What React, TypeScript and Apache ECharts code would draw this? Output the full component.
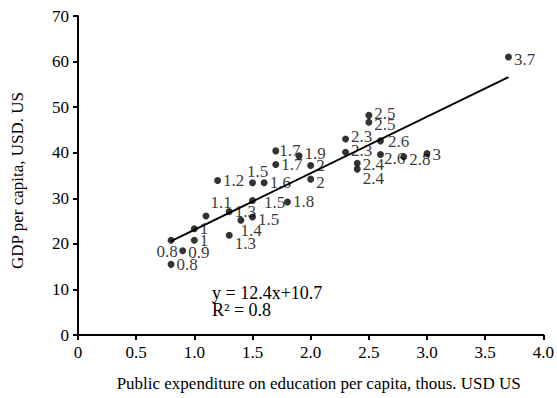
import React, { useEffect, useRef } from "react";
import * as echarts from "echarts";

// Public expenditure on education per capita (thous. USD)
const xValues = [0.8, 0.8, 0.9, 1, 1, 1.1, 1.2, 1.3, 1.3, 1.4, 1.5, 1.5, 1.5, 1.6, 1.7, 1.7, 1.8, 1.9, 2, 2, 2.3, 2.3, 2.4, 2.4, 2.5, 2.5, 2.6, 2.6, 2.8, 3, 3.7];
// GDP per capita
const yValues = [20.8, 15.5, 18.5, 23.3, 20.8, 26.1, 33.9, 27.1, 21.9, 25.2, 29.5, 25.9, 33.4, 33.4, 40.4, 37.4, 29.2, 39.3, 37.2, 34.2, 43.0, 40.1, 37.7, 36.4, 48.2, 46.7, 42.6, 39.6, 39.1, 39.8, 61.0];
// label placement tweaks (dx, dy) relative to "right"
const labelOffsets: [number, number][] = [
  [-20, 11], [0, 0], [0, 2], [0, 0], [0, 0], [-1, -14], [0, 0], [0, 0], [0, 8], [-6, 10],
  [6, 2], [0, 3], [-11, -11], [0, 0], [-2, 0], [0, 0], [0, 0], [0, -2], [0, 0], [0, 3],
  [0, -3], [0, -2], [0, 1], [0, 9], [0, -2], [0, 2], [2, 1], [-2, 4], [0, 3], [0, 1], [0, 2],
];
const xTicks = [0, 0.5, 1, 1.5, 2, 2.5, 3, 3.5, 4];
const yTicks = [0, 10, 20, 30, 40, 50, 60, 70];
const slope = 12.4;
const intercept = 10.7;
const rSquared = 0.8;

const FONT = "'Liberation Serif', 'Times New Roman', serif";

export default function App() {
  const ref = useRef<HTMLDivElement>(null);
  useEffect(() => {
    if (!ref.current) return;
    const chart = echarts.init(ref.current, undefined, { renderer: "svg" });
    const xMin = Math.min(...xValues);
    const xMax = Math.max(...xValues);
    const scatterData = xValues.map((x, i) => [x, yValues[i]]);
    chart.setOption({
      animation: false,
      textStyle: { fontFamily: FONT, color: "#000" },
      grid: { left: 78, right: 7, top: 16, bottom: 63, containLabel: false },
      xAxis: {
        type: "value",
        min: xTicks[0],
        max: xTicks[xTicks.length - 1],
        interval: 0.5,
        name: "Public expenditure on education per capita, thous. USD US",
        nameLocation: "middle",
        nameGap: 40,
        nameTextStyle: { fontFamily: FONT, fontSize: 17, color: "#000", padding: [0, 0, 0, 16] },
        axisLine: { lineStyle: { color: "#000", width: 2 } },
        axisTick: { show: true, length: 5, lineStyle: { color: "#000", width: 2 } },
        axisLabel: {
          margin: 9,
          fontFamily: FONT,
          fontSize: 17,
          color: "#000",
          formatter: (v: number) => (v === 0 ? "0" : v.toFixed(1)),
        },
        splitLine: { show: false },
      },
      yAxis: {
        type: "value",
        min: yTicks[0],
        max: yTicks[yTicks.length - 1],
        interval: 10,
        name: "GDP per capita, USD. US",
        nameLocation: "middle",
        nameGap: 52,
        nameTextStyle: { fontFamily: FONT, fontSize: 17, color: "#000", padding: [0, 10, 0, 0] },
        axisLine: { show: true, lineStyle: { color: "#000", width: 2 } },
        axisTick: { show: true, length: 5, lineStyle: { color: "#000", width: 2 } },
        axisLabel: { margin: 9, fontFamily: FONT, fontSize: 17, color: "#000" },
        splitLine: { show: false },
      },
      graphic: [
        {
          type: "text",
          left: 212,
          top: 284,
          style: {
            text: `y = ${slope}x+${intercept}\nR\u00b2 = ${rSquared}`,
            font: `18px ${FONT}`,
            fill: "#000",
            lineHeight: 17,
          },
        },
      ],
      series: [
        {
          type: "line",
          data: [
            [xMin, slope * xMin + intercept],
            [xMax, slope * xMax + intercept],
          ],
          symbol: "none",
          lineStyle: { color: "#000", width: 2 },
          z: 1,
        },
        {
          type: "scatter",
          data: scatterData,
          symbol: "circle",
          symbolSize: 7,
          itemStyle: { color: "#000" },
          z: 2,
          label: {
            show: true,
            position: "right",
            distance: 2,
            fontFamily: FONT,
            fontSize: 17,
            color: "#000",
            textBorderWidth: 0,
            formatter: (p: any) => String(p.value[0]),
          },
          labelLayout: (params: any) => {
            const o = labelOffsets[params.dataIndex] || [0, 0];
            return { dx: o[0], dy: o[1], hideOverlap: false };
          },
        },
      ],
    });
    return () => chart.dispose();
  }, []);
  return (
    <div
      ref={ref}
      style={{ position: "fixed", left: 0, top: 0, width: 557, height: 398, background: "#fff" }}
    />
  );
}
